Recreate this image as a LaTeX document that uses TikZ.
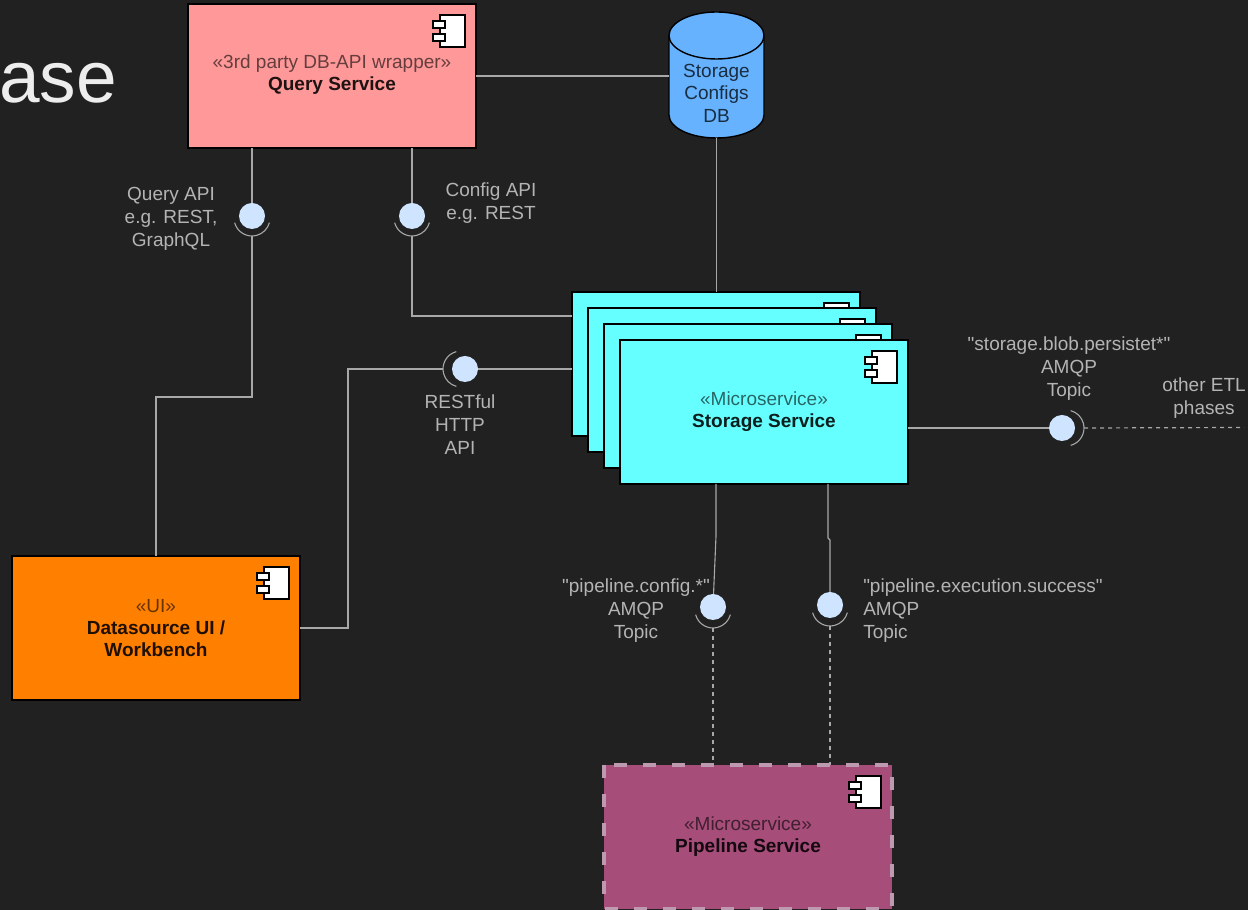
\documentclass[tikz,border=0pt]{standalone}
\usepackage{fontspec}
\setmainfont{Liberation Sans}[Ligatures=TeXOff]
\usetikzlibrary{calc}
\definecolor{bgc}{HTML}{212121}
\definecolor{linec}{HTML}{A8A8A8}
\definecolor{labelc}{HTML}{B4B4B4}
\definecolor{lolc}{HTML}{CFE5FF}
\definecolor{qc}{HTML}{FF9999}
\definecolor{sc}{HTML}{66FFFF}
\definecolor{uic}{HTML}{FF8000}
\definecolor{pc}{HTML}{A64D79}
\definecolor{dbc}{HTML}{66B2FF}
\definecolor{pdash}{HTML}{BE9AB0}
\newcommand{\compicon}[1]{%
  \begin{scope}[shift={(#1.north east)},line width=1.1pt,draw=black,fill=white]
    \filldraw (-36,-11) rectangle (-11,-43);
    \filldraw (-43,-17) rectangle (-31,-24);
    \filldraw (-43,-30) rectangle (-31,-37);
  \end{scope}}
\newcommand{\compsock}[4]{% lollipop name, offset, start angle, end angle
  \draw[sock] ($(#1)+#2+(#3:18)$) arc[start angle=#3,end angle=#4,radius=18];}
\newcommand{\stereo}[2]{\textcolor{#1!40!black}{#2}}
\newcommand{\cname}[2]{\textcolor{#1!12!black}{\textbf{#2}}}
\tikzset{
  x=1pt,y=1pt,
  comp/.style={rectangle,anchor=north west,minimum width=288pt,minimum height=144pt,inner sep=0pt,outer sep=0pt,draw=black,line width=1.4pt,align=center,font=\fontsize{19}{22}\selectfont},
  lab/.style={text=labelc,align=center,inner sep=0pt,font=\fontsize{19}{23}\selectfont},
  lol/.style={circle,fill=lolc,minimum size=26pt,inner sep=0pt,outer sep=0pt},
  wire/.style={draw=linec,line width=1.1pt},
  dwire/.style={draw=linec,line width=1.2pt,dash pattern=on 4pt off 4pt},
  sock/.style={draw=linec,line width=1.1pt}
}
\begin{document}
\begin{tikzpicture}
\useasboundingbox (0,0) rectangle (1248,910);
\fill[bgc] (0,0) rectangle (1248,910);
\node[anchor=base west,inner sep=0pt,text=white!93!black,font=\fontsize{73}{73}\selectfont] (title) at (-1,807) {ase};

% components
\node[comp,fill=qc] (query) at (188,906) {\stereo{qc}{«3rd party DB-API wrapper»}\\\cname{qc}{Query Service}\\[-16pt]\mbox{}};
% database: a frame node for the anchors, the cylinder drawn on it
\node[rectangle,minimum width=95pt,minimum height=126pt,inner sep=0pt,outer sep=0pt] (db) at (716.5,835) {};
\filldraw[draw=black,line width=1.4pt,fill=dbc] ($(db.north west)+(0,-23.5)$) arc[start angle=180,end angle=0,x radius=47.5,y radius=23.5] -- ($(db.south east)+(0,23)$) arc[start angle=0,end angle=-180,x radius=47.5,y radius=23] -- cycle;
\draw[black,line width=1.4pt] ($(db.north west)+(0,-23.5)$) arc[start angle=180,end angle=360,x radius=47.5,y radius=23.5];
\node[inner sep=0pt,align=center,text=dbc!25!black,font=\fontsize{19}{22.5}\selectfont] (dbtext) at (716.5,817) {Storage\\Configs\\DB};
\node[comp,fill=sc] (s1) at (572,618) {};
\compicon{s1}
\node[comp,fill=sc] (s2) at (588,602) {};
\compicon{s2}
\node[comp,fill=sc] (s3) at (604,586) {};
\compicon{s3}
\node[comp,fill=sc] (store) at (620,570) {\stereo{sc}{«Microservice»}\\\cname{sc}{Storage Service}};
\compicon{query}
\compicon{store}
\node[comp,fill=uic] (ui) at (12,354) {\stereo{uic}{«UI»}\\\cname{uic}{Datasource UI /}\\\cname{uic}{Workbench}};
\compicon{ui}
\node[comp,fill=pc,draw=none] (pipe) at (604,145) {\stereo{pc}{«Microservice»}\\\cname{pc}{Pipeline Service}};
\draw[draw=pdash,line width=3.5pt,dash pattern=on 13pt off 16pt] (pipe.north west) rectangle (pipe.south east);
\compicon{pipe}

% lollipops
\node[lol] (lolA) at (252,694) {};
\node[lol] (lolB) at (412,694) {};
\node[lol] (lolC) at (465,541) {};
\node[lol] (lolD) at (1062,482) {};
\node[lol] (lolE) at (713,303) {};
\node[lol] (lolF) at (830,305) {};

% sockets
\compsock{lolA}{(0,-2)}{195}{345}
\compsock{lolB}{(0,-2)}{195}{345}
\compsock{lolC}{(-4,0)}{105}{255}
\compsock{lolD}{(4,0)}{-75}{75}
\compsock{lolE}{(0,-3)}{195}{345}
\compsock{lolF}{(0,-3)}{195}{345}
\coordinate (sockA) at ($(lolA)+(0,-20)$);
\coordinate (sockB) at ($(lolB)+(0,-20)$);
\coordinate (sockC) at ($(lolC)+(-22,0)$);
\coordinate (sockD) at ($(lolD)+(22,0)$);
\coordinate (sockE) at ($(lolE)+(0,-21)$);
\coordinate (sockF) at ($(lolF)+(0,-21)$);

% connector waypoints
\coordinate (bendA) at (252,513);
\coordinate (uiA) at (156,354);
\coordinate (s1B) at (572,594);
\coordinate (bendC) at (348,541);
\coordinate (uiC) at (300,282);
\coordinate (kE) at (716,374);
\coordinate (kF1) at (828,372);
\coordinate (kF2) at (830,370);
\coordinate (etl) at (1244,482.5);

% connectors
\draw[wire] (query.south -| lolA) -- (lolA);
\draw[wire] (sockA) -- (bendA) -| (uiA);
\draw[wire] (query.south -| lolB) -- (lolB);
\draw[wire] (sockB) |- (s1B);
\draw[wire] (query.east) -- (db.west |- query.east);
\draw[wire] (db.south) -- (db.south |- s1.north);
\draw[wire] (s1.west |- lolC) -- (lolC);
\draw[wire] (sockC) -- (bendC) |- (uiC);
\draw[wire] (store.east |- lolD) -- (lolD);
\draw[wire] (kE |- store.south) -- (kE) -- (lolE);
\draw[wire] (kF1 |- store.south) -- (kF1) -- (kF2) -- (lolF);
\draw[dwire] (sockD) -- (etl);
\draw[dwire] (sockE) -- (sockE |- pipe.north);
\draw[dwire] (sockF) -- (sockF |- pipe.north);

% labels
\node[lab] (l1) at (171,691) {Query API\\e.g. REST,\\GraphQL};
\node[lab] (l2) at (491,707) {Config API\\e.g. REST};
\node[lab] (l3) at (460,485) {RESTful\\HTTP\\API};
\node[lab] (l4) at (1069,541) {"storage.blob.persistet*"\\AMQP\\Topic};
\node[lab] (l5) at (1204,512) {other ETL\\phases};
\node[lab] (l6) at (636,299) {"pipeline.config.*"\\AMQP\\Topic};
\node[lab,align=left] (l7) at (983,299) {"pipeline.execution.success"\\AMQP\\Topic};
\end{tikzpicture}
\end{document}
